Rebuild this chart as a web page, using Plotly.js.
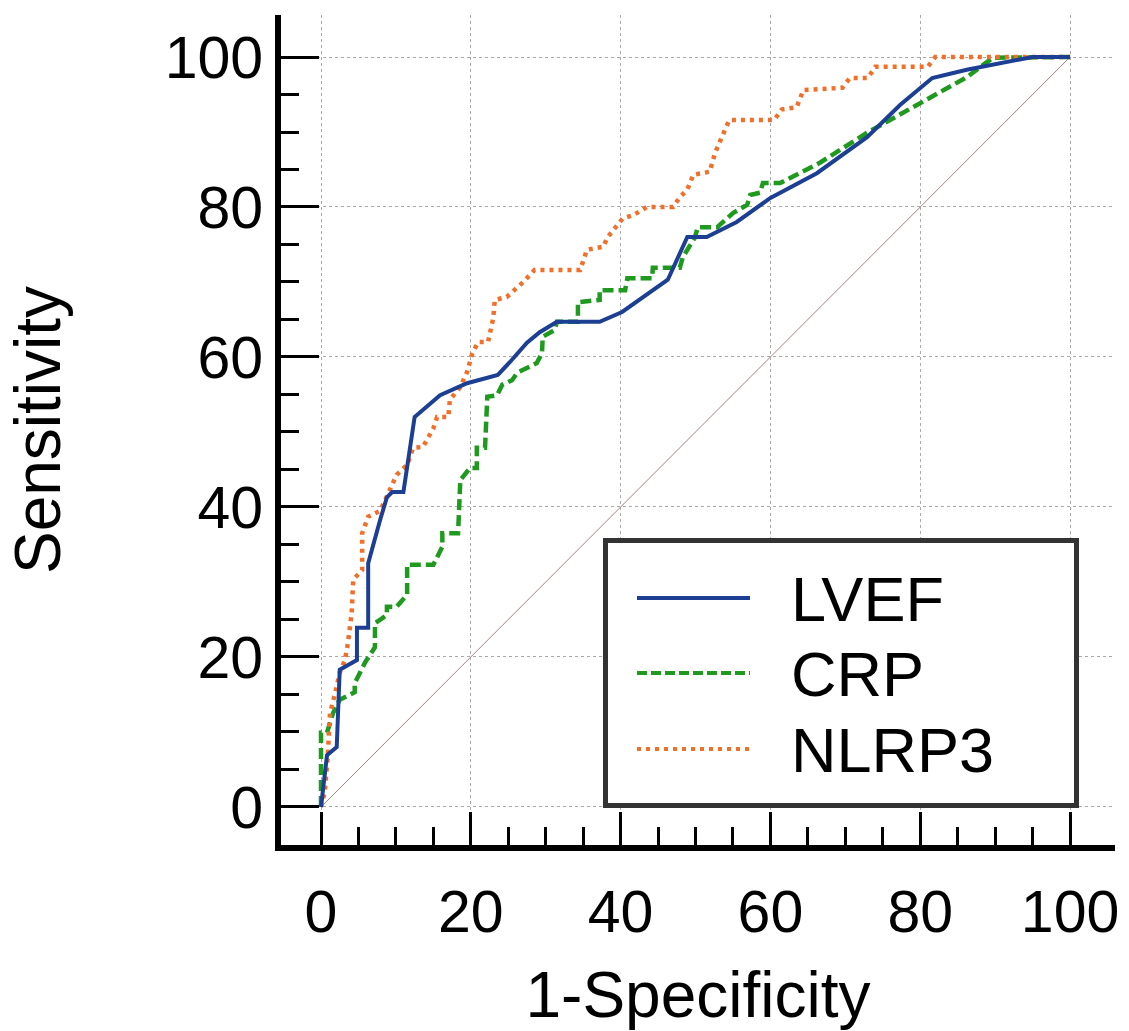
<!DOCTYPE html>
<html>
<head>
<meta charset="utf-8">
<script src="https://cdn.plot.ly/plotly-3.0.1.min.js"></script>
<style>html,body{margin:0;padding:0;background:#fff;}#chart{width:1129px;height:1031px;}</style>
</head>
<body>
<div id="chart"></div>
<script>
// ROC curve data (1-Specificity %, Sensitivity %)
var lvefX = [0,0.8,2.1,2.5,4.8,4.8,6.3,6.3,7.9,8.8,9.5,11.0,12.5,15.9,19.5,23.6,25.2,27.5,29.2,31.5,37.2,40.2,46.3,48.9,51.5,55.5,60,66.2,72.9,77.3,81.6,86.2,95,100];
var lvefY = [0,6.9,8,18.3,19.6,23.9,23.9,32.5,38.3,41.3,42,42,52,54.9,56.5,57.6,59.3,61.9,63.3,64.7,64.7,66,70.3,76,76,78,81.2,84.5,89.3,93.6,97.2,98.3,100,100];

var crpX = [0,0,0.8,1.6,2.5,4.5,4.5,5.9,7.2,7.2,8.8,8.8,10.1,11.5,11.5,15.0,16.2,16.2,18.3,18.6,19.9,20.8,20.8,21.9,22.2,23.5,24.2,25.5,26.2,28.8,29.5,29.6,31.2,31.5,34.3,34.3,37.2,37.2,40.6,40.9,44.2,44.3,47.9,48.3,49.9,50.3,52.9,55.0,56.9,57.3,58.6,59.0,61.3,66.6,72.9,76.0,80.0,86.2,89.7,100];
var crpY = [0,9.9,9.9,12.5,14.3,15.3,16.5,19.3,21.3,24.5,25.6,26.7,26.7,28.3,32.3,32.3,34.7,36.5,36.5,43.6,45.2,45.2,47.9,47.9,54.7,54.9,56.3,56.9,57.9,59.2,60.5,62.7,63.6,64.7,64.7,67.3,67.6,68.9,68.9,70.5,70.5,71.9,71.9,73.3,75.9,77.3,77.3,79.2,80.3,81.6,81.9,83.2,83.2,85.9,89.9,91.6,93.9,97.3,99.9,100];

var nlrpX = [0,0.5,0.9,1.2,1.9,2.5,3.2,3.6,4.1,4.3,5.5,5.5,6.3,7.9,9.2,10.1,11.5,12.3,13.6,15.0,15.5,17.0,17.2,18.6,19.5,20.2,21.0,22.3,23.0,23.2,24.8,26.2,27.0,28.5,34.6,35.5,37.7,38.2,40.3,41.7,43.5,47.0,47.9,48.9,49.7,51.9,52.6,54.5,60.5,61.5,63.5,64.4,69.6,70.6,73.0,74.0,81.0,82.0,100];
var nlrpY = [0,2,6.7,12.5,15.2,17.9,19.6,21.9,25.9,30.3,31.6,36.5,38.7,39.5,42.3,44.3,45.6,47.9,48.0,50.5,52.0,52.0,54.3,56.0,58.0,60.5,62.0,62.0,65.2,67.6,68.0,69.2,70.0,71.6,71.6,74.3,74.7,75.9,78.5,78.9,80.0,80.0,81.3,82.3,84.3,84.7,87.2,91.6,91.6,93.0,93.3,95.6,95.9,97.2,97.2,98.7,98.7,100,100];

var refX = [0,100];
var refY = [0,100];

var tickVals = [0,20,40,60,80,100];
var tickText = ["0","20","40","60","80","100"];
var minorVals = [5,10,15,25,30,35,45,50,55,65,70,75,85,90,95];

var seriesNames = ["LVEF","CRP","NLRP3"];
var seriesColors = ["#1c3f94","#1f9a1f","#f0702a"];
var seriesDash = ["solid","11px,5px","4px,5px"];

var FONT = "Liberation Sans, Arial, Helvetica, sans-serif";

var traces = [
  {x: refX, y: refY, mode: "lines", line: {color: "#a88080", width: 1}, showlegend: false, hoverinfo: "skip"},
  {x: crpX, y: crpY, name: seriesNames[1], mode: "lines", line: {color: seriesColors[1], width: 4.5, dash: seriesDash[1]}, showlegend: false},
  {x: nlrpX, y: nlrpY, name: seriesNames[2], mode: "lines", line: {color: seriesColors[2], width: 4.5, dash: seriesDash[2]}, showlegend: false},
  {x: lvefX, y: lvefY, name: seriesNames[0], mode: "lines", line: {color: seriesColors[0], width: 4}, showlegend: false}
];

// paper-coordinate helpers for the legend box (plot area: x 281..1115 px, y 15..845 px)
function px(v){ return (v - 281) / 834; }
function py(v){ return (845 - v) / 830; }

var shapes = [
  {type: "rect", xref: "paper", yref: "paper", x0: px(605.5), x1: px(1076.5), y0: py(805.5), y1: py(540.5),
   fillcolor: "#ffffff", line: {color: "#333333", width: 5}, layer: "above"}
];
var annotations = [];
var rowY = [598, 673, 749];
for (var i = 0; i < 3; i++) {
  shapes.push({type: "line", xref: "paper", yref: "paper", x0: px(637), x1: px(750), y0: py(rowY[i]), y1: py(rowY[i]),
    line: {color: seriesColors[i], width: 4, dash: i === 0 ? "solid" : (i === 1 ? "10px,4px" : "4px,5px")}, layer: "above"});
  annotations.push({xref: "paper", yref: "paper", x: px(789), y: py(rowY[i] + 1), xanchor: "left", yanchor: "middle",
    text: seriesNames[i], showarrow: false, font: {family: FONT, size: 63, color: "#000"}});
}

var axisCommon = {
  tickmode: "array", tickvals: tickVals, ticktext: tickText,
  ticks: "inside", tickwidth: 3, tickcolor: "#000",
  showline: true, linecolor: "#000", linewidth: 6, mirror: false,
  showgrid: true, gridcolor: "#a9a9a9", gridwidth: 1, griddash: "dot",
  zeroline: false, fixedrange: true,
  tickfont: {family: FONT, size: 59, color: "#000"},
  minor: {tickmode: "array", tickvals: minorVals, ticks: "inside", ticklen: 18, tickwidth: 3, tickcolor: "#000", showgrid: false}
};

var layout = {
  width: 1129, height: 1031,
  paper_bgcolor: "#ffffff", plot_bgcolor: "#ffffff",
  margin: {l: 281, r: 14, t: 15, b: 186},
  showlegend: false,
  xaxis: Object.assign({}, axisCommon, {
    range: [-5.34, 106.0], ticklen: 33, ticklabelstandoff: 10,
    title: {text: "1-Specificity", font: {family: FONT, size: 64, color: "#000"}, standoff: 36}
  }),
  yaxis: Object.assign({}, axisCommon, {
    range: [-5.07, 105.6], ticklen: 38,
    title: {text: "Sensitivity", font: {family: FONT, size: 64, color: "#000"}, standoff: 85}
  }),
  shapes: shapes,
  annotations: annotations
};

Plotly.newPlot("chart", traces, layout, {displayModeBar: false, staticPlot: true});
</script>
</body>
</html>
